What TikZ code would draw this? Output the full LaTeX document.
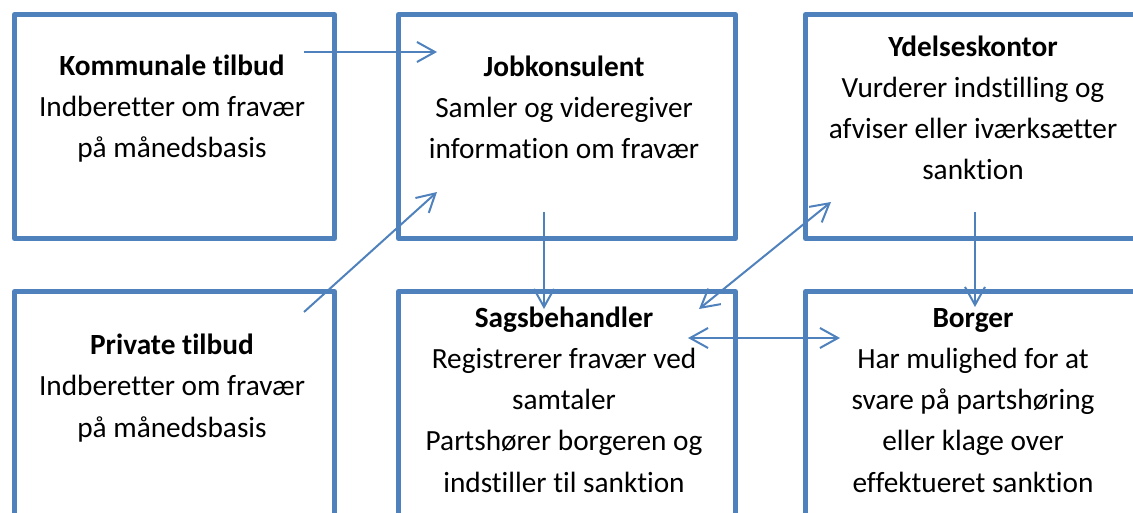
\documentclass[tikz,border=0pt]{standalone}
\usepackage{fontspec}
\setmainfont{Carlito}[Ligatures=NoCommon]
\usetikzlibrary{arrows.meta}
\definecolor{boxblue}{HTML}{4F81BD}
\begin{document}
\begin{tikzpicture}[x=1pt,y=-1pt,
  box/.style={draw=boxblue, line width=5pt, line join=round, inner sep=0pt, anchor=north west, minimum height=224pt},
  lbl/.style={align=center, font=\fontsize{29.3}{41.2}\selectfont, anchor=base, inner sep=0pt},
  conn/.style={draw=boxblue, line width=2pt, -{Straight Barb[length=18pt,width=20pt]}},
  dconn/.style={draw=boxblue, line width=2pt, {Straight Barb[length=18pt,width=20pt]}-{Straight Barb[length=18pt,width=20pt]}}]
\useasboundingbox (0,0) rectangle (1133,513);
\clip (0,0) rectangle (1133,513);
% boxes
\node[box, minimum width=320pt] (kombox) at (12,12) {};
\node[box, minimum width=337pt] (jobbox) at (396,12) {};
\node[box, minimum width=340pt] (ydelbox) at (803,12) {};
\node[box, minimum width=320pt, minimum height=260pt] (privbox) at (12,289) {};
\node[box, minimum width=337pt, minimum height=260pt] (sagsbox) at (396,289) {};
\node[box, minimum width=340pt, minimum height=260pt] (borgbox) at (803,289) {};
% texts (anchor = baseline of last line)
\node[lbl] (komtxt) at (172,158) {\textbf{Kommunale tilbud}\\Indberetter om fravær\\på månedsbasis};
\node[lbl] (jobtxt) at (564,159) {\textbf{Jobkonsulent}\\Samler og videregiver\\information om fravær};
\node[lbl] (ydeltxt) at (973,180) {\textbf{Ydelseskontor}\\Vurderer indstilling og\\afviser eller iværksætter\\sanktion};
\node[lbl] (privtxt) at (172,437) {\textbf{Private tilbud}\\Indberetter om fravær\\på månedsbasis};
\node[lbl] (sagstxt) at (564,492) {\textbf{Sagsbehandler}\\Registrerer fravær ved\\samtaler\\Partshører borgeren og\\indstiller til sanktion};
\node[lbl] (borgtxt) at (973,492) {\textbf{Borger}\\Har mulighed for at\\svare på partshøring\\eller klage over\\effektueret sanktion};
% connector end points
\coordinate (a1s) at (304,52);  \coordinate (a1e) at (437,52);
\coordinate (a2s) at (304,312); \coordinate (a2e) at (437,192);
\coordinate (a3s) at (544,212); \coordinate (a3e) at (544,309);
\coordinate (a4s) at (699,309); \coordinate (a4e) at (831,202);
\coordinate (a5s) at (975,212); \coordinate (a5e) at (975,307);
\coordinate (a6s) at (688,338); \coordinate (a6e) at (840,338);
\draw[conn] (a1s) -- (a1e);
\draw[conn] (a2s) -- (a2e);
\draw[conn] (a3s) -- (a3e);
\draw[dconn] (a4s) -- (a4e);
\draw[conn] (a5s) -- (a5e);
\draw[dconn] (a6s) -- (a6e);
\end{tikzpicture}
\end{document}
